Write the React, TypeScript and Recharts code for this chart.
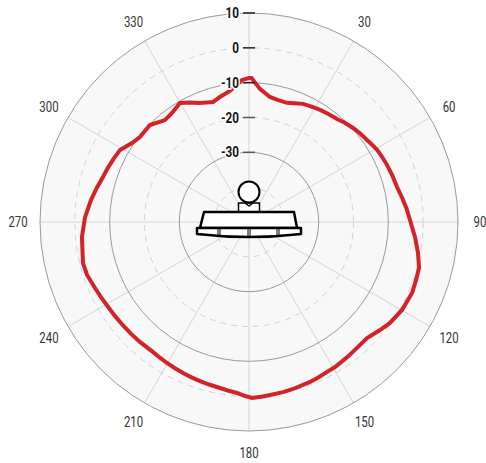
import React from "react";
import { RadarChart, Radar, PolarGrid, PolarAngleAxis, PolarRadiusAxis } from "recharts";

const angles = [0, 1, 4.7, 9.5, 13.5, 17.7, 21, 24.6, 28.5, 32.4, 36.5, 40.5, 44, 47.9, 51.5, 55.2, 58, 60.6, 64, 67.6, 72, 76.7, 81, 85, 89.3, 95.2, 100.4, 105.1, 109.1, 113.5, 119.9, 125.6, 129.5, 134.5, 138, 143.7, 149.3, 152.5, 155.8, 159.1, 165.2, 168.7, 173, 176, 179, 181.5, 184, 186.9, 189.9, 193.5, 197.1, 200.3, 203.6, 207, 210.2, 213.3, 216.4, 222.3, 226.5, 230.7, 235, 239, 243, 246.8, 251.9, 256.1, 264.9, 271.7, 277.9, 282.5, 287.1, 291, 295, 299.2, 304, 307.9, 314.4, 320.5, 324.8, 329.9, 333.5, 337.6, 340.5, 343.3, 346.9, 351.7, 357.2];
const levels = [-8.66, -8.66, -11.67, -13.6, -14.0, -14.1, -13.5, -12.7, -12.3, -11.9, -11.5, -11.1, -10.4, -9.75, -9.2, -8.74, -8.25, -7.82, -7.45, -7.13, -6.75, -6.33, -5.5, -4.64, -3.78, -2.14, -0.67, 0.56, 0.76, 1.05, 0.67, -0.22, -1.25, -2.48, -2.43, -2.05, -1.59, -1.48, -1.15, -0.85, -0.42, -0.2, 0.04, 0.3, 0.53, -0.1, -0.79, -1.2, -1.62, -1.95, -2.23, -2.45, -2.68, -2.95, -3.17, -3.4, -3.6, -3.46, -3.35, -3.2, -3.0, -2.77, -2.35, -1.91, -1.08, -0.9, -1.85, -2.91, -4.2, -5.2, -6.13, -6.6, -7.1, -7.59, -9.46, -10.3, -10.2, -12.07, -11.67, -10.49, -11.7, -13.05, -13.6, -14.03, -13.16, -11.99, -9.17];
const angleTicks = [0, 30, 60, 90, 120, 150, 180, 210, 240, 270, 300, 330];
const radiusTicks = [-30, -20, -10, 0, 10];
const solidLevels = [-30, -10, 10];
const dashedLevels = [-40, -20, 0];
const domain: [number, number] = [-50, 10];

const data = angles.map((angle, i) => ({ angle, level: levels[i] }));

const W = 486, H = 463, CX = 249, CY = 222, R = 209;
const toR = (v: number) => ((v - domain[0]) / (domain[1] - domain[0])) * R;
const FONT = "Roboto, sans-serif";

const AngleTick = ({ x, y, payload }: any) =>
  payload.value === 0 ? null : (
    <text transform={`translate(${x} ${y + 5}) scale(0.76 1)`} textAnchor="middle" fontFamily={FONT} fontSize={15} fill="#333">
      {payload.value}
    </text>
  );

const RadiusTick = ({ x, y, payload }: any) => (
  <g>
    <line x1={x - 6} x2={x + 6} y1={y} y2={y} stroke={payload.value < -15 ? "#555" : "#222"} strokeWidth={1.5} />
    <text transform={`translate(${x - 10} ${y + 5}) scale(0.78 1)`} textAnchor="end" fontFamily={FONT} fontSize={15} fontWeight={700} fill="#111"
      stroke="#fff" strokeWidth={3.5} paintOrder="stroke">
      {payload.value}
    </text>
  </g>
);

const Icon = () => (
  <g fill="#fff" stroke="#000" strokeLinejoin="round">
    <rect x={238.5} y={203} width={21} height={9} strokeWidth={1.5} />
    <path d="M245 203 L249 206 L253 203" fill="none" strokeWidth={1.5} />
    <circle cx={249} cy={192} r={10.5} strokeWidth={2} />
    <path d="M204 212 H294 L297 228 H200 Z" strokeWidth={2.5} />
    <path d="M197 228 H301 V234 Q249 240 197 234 Z" strokeWidth={2.5} />
    <path d="M218 229 V237 M220 229 V237 M248 229 V237 M250 229 V237 M277 229 V237 M279 229 V237" fill="none" strokeWidth={1} />
  </g>
);

export default function App() {
  return (
    <div style={{ position: "absolute", left: 0, top: 0, width: W, height: H }}>
      <div style={{ position: "absolute", left: CX - R, top: CY - R, width: 2 * R, height: 2 * R, borderRadius: "50%", background: "#f8f8f8" }} />
      <div style={{ position: "absolute", left: 0, top: 0 }}>
        <RadarChart width={W} height={H} data={data} cx={CX} cy={CY} innerRadius={0} outerRadius={R} startAngle={90} endAngle={-270} margin={{ top: 0, right: 0, bottom: 0, left: 0 }}>
          <PolarGrid gridType="circle" polarRadius={dashedLevels.map(toR)} polarAngles={[]} stroke="#d2d2d2" strokeWidth={1} strokeDasharray="6 5" />
          <PolarGrid gridType="circle" polarRadius={[]} polarAngles={angleTicks.map((a) => 90 - a)} stroke="#d4d4d4" strokeWidth={1} />
          <PolarGrid gridType="circle" polarRadius={solidLevels.map(toR)} polarAngles={[]} stroke="#999999" strokeWidth={1} />
          <PolarAngleAxis dataKey="angle" type="number" domain={[0, 360]} ticks={angleTicks as any} tick={AngleTick} tickLine={false} axisLine={false} tickSize={22} />
          <Radar dataKey="level" stroke="#d2232a" strokeWidth={4} fill="none" dot={false} isAnimationActive={false} />
          <PolarRadiusAxis angle={90} domain={domain} ticks={radiusTicks as any} tick={RadiusTick} axisLine={false} tickLine={false} tickCount={7} />
          <Icon />
        </RadarChart>
      </div>
    </div>
  );
}
